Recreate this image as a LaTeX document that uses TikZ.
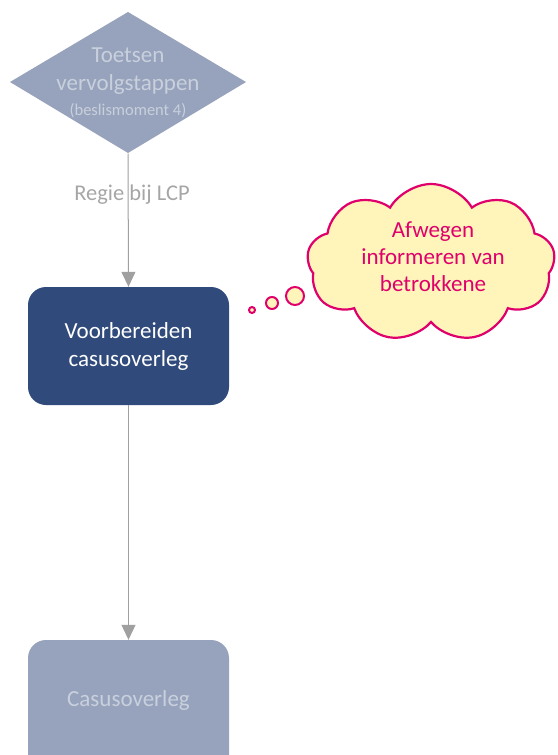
\documentclass[tikz,border=0pt]{standalone}
\usepackage{fontspec}
\setmainfont{Carlito}
\usetikzlibrary{shapes.geometric,shapes.symbols,arrows.meta}
\definecolor{fadedfill}{HTML}{97A3BC}
\definecolor{fadedtext}{HTML}{C9D0DD}
\definecolor{navy}{HTML}{2F4A7B}
\definecolor{linegray}{HTML}{A0A0A0}
\definecolor{labelgray}{HTML}{A6A6A6}
\definecolor{cloudfill}{HTML}{FFF5BB}
\definecolor{cloudline}{HTML}{E0006C}
\tikzset{
  flowarrow/.style={draw=linegray, line width=1pt, -{Triangle[width=14pt,length=15pt]}},
  fadedbox/.style={rectangle, rounded corners=18pt, fill=fadedfill, minimum width=201pt, minimum height=118pt, text=fadedtext, font=\fontsize{23}{28}\selectfont, align=center},
  navybox/.style={rectangle, rounded corners=18pt, fill=navy, minimum width=201pt, minimum height=118pt, text=white, font=\fontsize{23}{28}\selectfont, align=center},
  bubble/.style={circle, draw=cloudline, fill=cloudfill, line width=2pt, inner sep=0pt},
}
\begin{document}
\begin{tikzpicture}[x=1pt,y=-1pt]
\useasboundingbox (0,0) rectangle (557,755);
\clip (0,0) rectangle (557,755);
% diamond
\fill[fadedfill] (128,12) -- (246,82) -- (128,153) -- (10,82) -- cycle;
\node[inner sep=0pt] (dtop) at (128,12) {};
\node[inner sep=0pt] (dbot) at (128,153) {};
\node[text=fadedtext, font=\fontsize{23}{28}\selectfont, align=center] (dtext) at (128,71) {Toetsen\\vervolgstappen};
\node[text=fadedtext, font=\fontsize{16.5}{18}\selectfont] (dsub) at (128,111) {(beslismoment 4)};
% boxes
\node[navybox] (prep) at (128.5,346) {Voorbereiden\\casusoverleg};
\node[fadedbox, minimum height=150pt] (cas) at (128.5,715) {};
\node[text=fadedtext, font=\fontsize{23}{28}\selectfont] (castext) at (128.5,700) {Casusoverleg};
% arrows
\draw[flowarrow] (dbot) -- (prep.north);
\draw[flowarrow] (prep.south) -- (cas.north);
\node[text=labelgray, font=\fontsize{22.5}{26}\selectfont] (lab) at (132,195) {Regie bij LCP};
% cloud
\node[cloud, cloud puffs=9, cloud puff arc=120, cloud ignores aspect, minimum width=248pt, minimum height=158pt, draw=cloudline, fill=cloudfill, line width=2.2pt] (cloud) at (431,263) {};
\node[text=cloudline, font=\fontsize{23}{27}\selectfont, align=center] (cloudtext) at (433,257) {Afwegen\\informeren van\\betrokkene};
\node[bubble, minimum size=6pt] (b1) at (252,310) {};
\node[bubble, minimum size=12pt] (b2) at (272,303) {};
\node[bubble, minimum size=18pt] (b3) at (295,296) {};
\end{tikzpicture}
\end{document}
